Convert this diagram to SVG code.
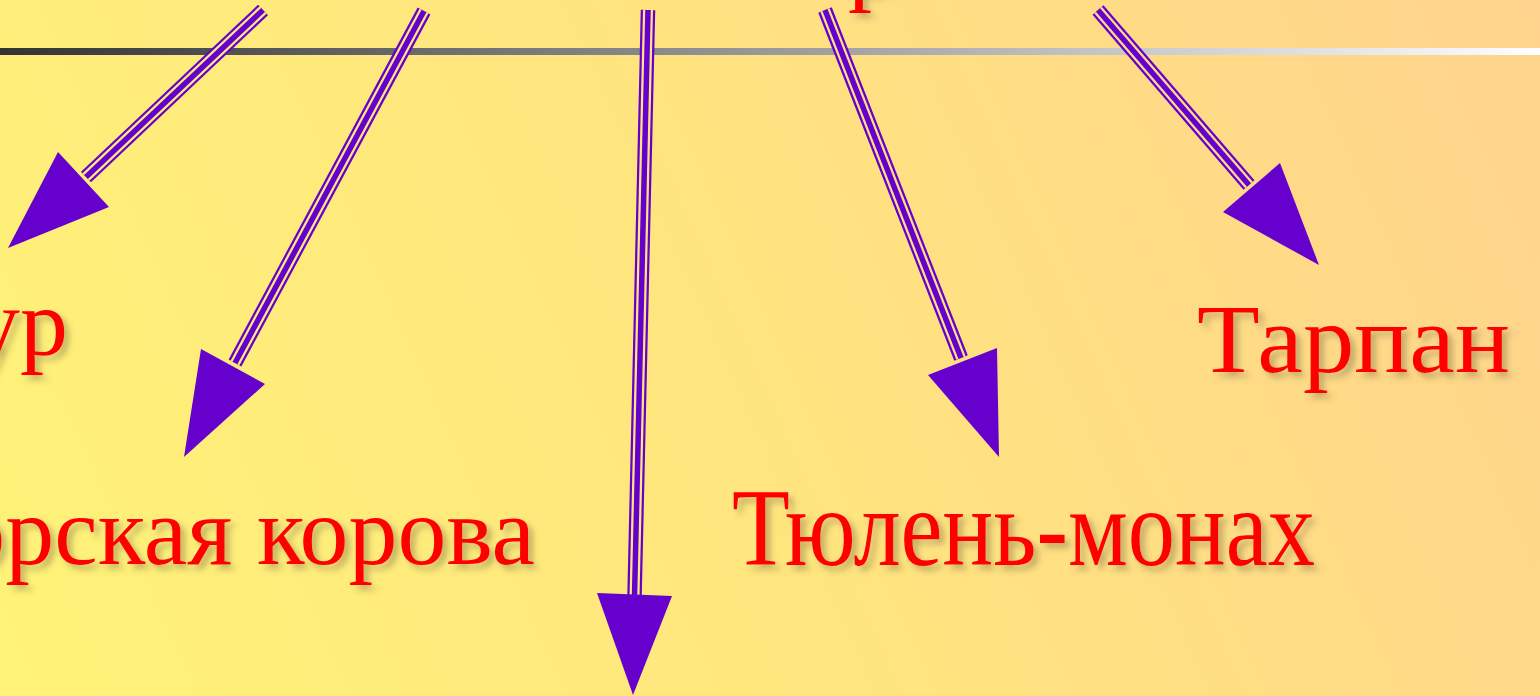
<svg xmlns="http://www.w3.org/2000/svg" width="1540" height="696" viewBox="0 0 1540 696">
<defs>
<linearGradient id="bg" gradientUnits="userSpaceOnUse" x1="0" y1="696" x2="1540" y2="0">
<stop offset="0" stop-color="#FFF378"/>
<stop offset="0.5" stop-color="#FFE47F"/>
<stop offset="1" stop-color="#FFD38D"/>
</linearGradient>
<linearGradient id="rule" gradientUnits="userSpaceOnUse" x1="0" y1="0" x2="1540" y2="0">
<stop offset="0" stop-color="#333333"/>
<stop offset="1" stop-color="#FFFFFF"/>
</linearGradient>
<filter id="sh" x="-10%" y="-20%" width="130%" height="150%">
<feDropShadow dx="5" dy="5" stdDeviation="3" flood-color="#7a6a40" flood-opacity="0.45"/>
</filter>
<style>
.lbl{font-family:"Liberation Serif","Times New Roman",serif;font-size:96px;fill:#FF0000;filter:url(#sh)}
.s1{stroke:#6600CC;stroke-width:14.5;fill:none}
.s2{stroke:url(#bg);stroke-width:10;fill:none}
.s3{stroke:#6600CC;stroke-width:5.5;fill:none}
.head{fill:#6600CC}
</style>
</defs>
<rect x="0" y="0" width="1540" height="696" fill="url(#bg)"/>
<rect x="0" y="48" width="1540" height="7" fill="url(#rule)"/>
<g id="title"><text class="lbl" x="848" y="-7">р</text></g>
<g id="tur"><text class="lbl" x="68" y="355" text-anchor="end">ур</text></g>
<g id="korova"><text class="lbl" x="535" y="564" text-anchor="end" style="font-size:98px">орская корова</text></g>
<g id="tyulen"><text class="lbl" x="732" y="565" style="font-size:110px" textLength="583" lengthAdjust="spacingAndGlyphs">Тюлень-монах</text></g>
<g id="tarpan"><text class="lbl" x="1197" y="372" style="font-size:98px" textLength="313" lengthAdjust="spacingAndGlyphs">Тарпан</text></g>
<g id="connectors">
<g>
<path d="M263,10 L86,177" class="s1"/><path d="M263,10 L86,177" class="s2"/><path d="M263,10 L86,177" class="s3"/>
<polygon class="head" points="58,152 109,207 8,248"/>
</g>
<g>
<path d="M424,11 L235,363" class="s1"/><path d="M424,11 L235,363" class="s2"/><path d="M424,11 L235,363" class="s3"/>
<polygon class="head" points="201,349 265,384 184,457"/>
</g>
<g>
<path d="M648,10 L634.5,597" class="s1"/><path d="M648,10 L634.5,597" class="s2"/><path d="M648,10 L634.5,597" class="s3"/>
<polygon class="head" points="597,593 672,596 633,695"/>
</g>
<g>
<path d="M825,10 L961,358" class="s1"/><path d="M825,10 L961,358" class="s2"/><path d="M825,10 L961,358" class="s3"/>
<polygon class="head" points="928,375 997,348 999,457"/>
</g>
<g>
<path d="M1098,10 L1249,185" class="s1"/><path d="M1098,10 L1249,185" class="s2"/><path d="M1098,10 L1249,185" class="s3"/>
<polygon class="head" points="1223,212 1280,163 1319,265"/>
</g>
</g>
</svg>
